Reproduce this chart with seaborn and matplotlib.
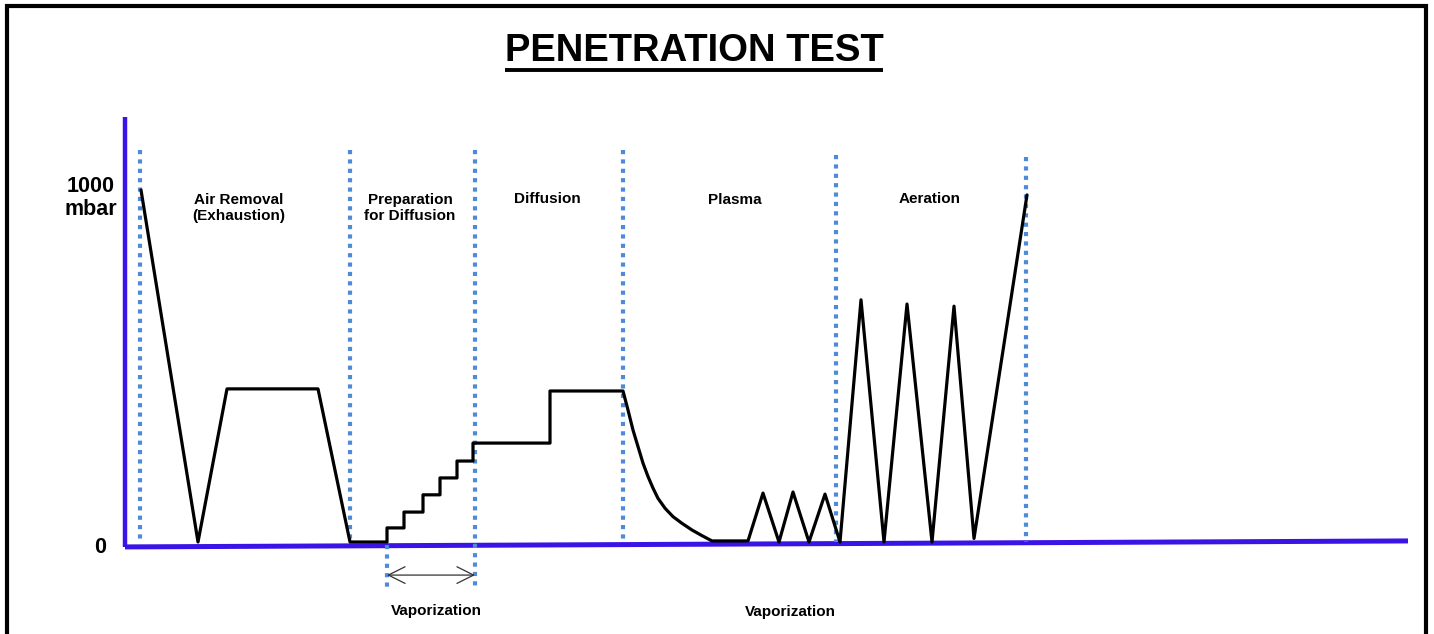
import numpy as np
import pandas as pd
import matplotlib.pyplot as plt
from matplotlib.lines import Line2D
from matplotlib.patches import Rectangle
import seaborn as sns

# pressure trace of the cycle (time in arbitrary units, pressure in mbar)
time = [1.6, 7.3, 10.2, 19.3, 22.5, 26.2,
        26.2, 27.9, 27.9, 29.8, 29.8, 31.5, 31.5, 33.2, 33.2, 34.8, 34.8, 42.5, 42.5, 49.8,
        50.3, 50.8, 51.3, 51.8, 52.3, 52.8, 53.3, 54.0, 54.8, 55.7, 56.7, 57.7, 58.7,
        62.3, 63.8, 65.4, 66.8, 68.4, 70.0, 71.5,
        73.6, 75.9, 78.2, 80.7, 82.9, 84.9, 90.2]
pressure = [1000, 0, 435, 435, 0, 0,
            40, 40, 85, 85, 134, 134, 182, 182, 230, 230, 281, 281, 429, 429,
            375, 318, 271, 224, 186, 153, 124, 96, 72, 53, 34, 18, 3,
            3, 139, 0, 142, 0, 136, 0,
            688, 0, 676, 0, 670, 10, 986]

# phase boundaries
bounds = [1.5, 22.5, 35.0, 49.8, 71.1, 90.1]
bound_top = [1114, 1114, 1114, 1114, 1099, 1094]
bound_bottom = [0, 0, -136, 0, 0, 0]

phases = ["Air Removal\n(Exhaustion)", "Preparation\nfor Diffusion", "Diffusion", "Plasma", "Aeration"]
phase_x = [11.4, 28.5, 42.2, 61.0, 80.5]
phase_y = [949, 949, 974, 972, 974]

vapor_x = [31.1, 66.5]
vapor_y = [-196, -199]
vapor_arrow = [26.2, 35.0]

df = pd.DataFrame({"time": time, "pressure": pressure})

sns.set_style("white")
plt.rcParams['font.family'] = ['Liberation Sans', 'DejaVu Sans']
plt.rcParams['text.color'] = 'black'

fig = plt.figure(figsize=(14.34, 6.34), dpi=100)
ax = fig.add_axes([0, 0, 1, 1])
ax.set_xlim(-12.5, 130.9)
ax.set_ylim(-261.4, 1539.8)
ax.set_axis_off()

blue = "#3a14e6"
dots = "#4f8ad8"

# blue axes
ax.plot([0, 0], [-14, 1206], color=blue, lw=3.2, solid_capstyle="butt")
ax.plot([0, 128.3], [-14, 3], color=blue, lw=3.6, solid_capstyle="butt")

# dotted phase separators
dot_style = dict(color=dots, lw=3.0, dashes=(1, 1.25), dash_capstyle="butt")
for x, lo, hi in zip(bounds, bound_bottom, bound_top):
    ax.plot([x, x], [hi, lo], **dot_style)
ax.plot([vapor_arrow[0], vapor_arrow[0]], [-9, -136], **dot_style)

sns.lineplot(data=df, x="time", y="pressure", sort=False, color="black",
             lw=2.3, ax=ax, estimator=None)

for lab, x, y in zip(phases, phase_x, phase_y):
    ax.text(x, y, lab, ha="center", va="center", fontsize=11, fontweight="bold",
            linespacing=1.25)

for x, y in zip(vapor_x, vapor_y):
    ax.text(x, y, "Vaporization", ha="center", va="center", fontsize=11, fontweight="bold")

ax.annotate("", xy=(vapor_arrow[0], -94), xytext=(vapor_arrow[1], -94),
            arrowprops=dict(arrowstyle="<->,head_length=1.2,head_width=0.6",
                            color="#333333", lw=0.9, shrinkA=0, shrinkB=0))

ax.text(-3.4, 977, "1000\nmbar", ha="center", va="center", fontsize=15.5,
        fontweight="bold", linespacing=1.15)
ax.text(-2.5, -17, "0", ha="center", va="center", fontsize=15.5, fontweight="bold")

title = ax.text(56.9, 1396, "PENETRATION TEST", ha="center", va="center",
                fontsize=27.5, fontweight="bold")

# frame around the slide
fig.add_artist(Rectangle((7 / 1434, -0.1), 1419 / 1434, (628 / 634) + 0.1,
                         transform=fig.transFigure, fill=False, ec="black", lw=3))

# underline the title
fig.canvas.draw()
bb = title.get_window_extent(fig.canvas.get_renderer())
uy = (bb.y0 - 1) / fig.bbox.height
fig.add_artist(Line2D([bb.x0 / fig.bbox.width, bb.x1 / fig.bbox.width], [uy, uy],
                      transform=fig.transFigure, color="black", lw=2.8,
                      solid_capstyle="butt"))

fig.savefig("out.png", dpi=100)
